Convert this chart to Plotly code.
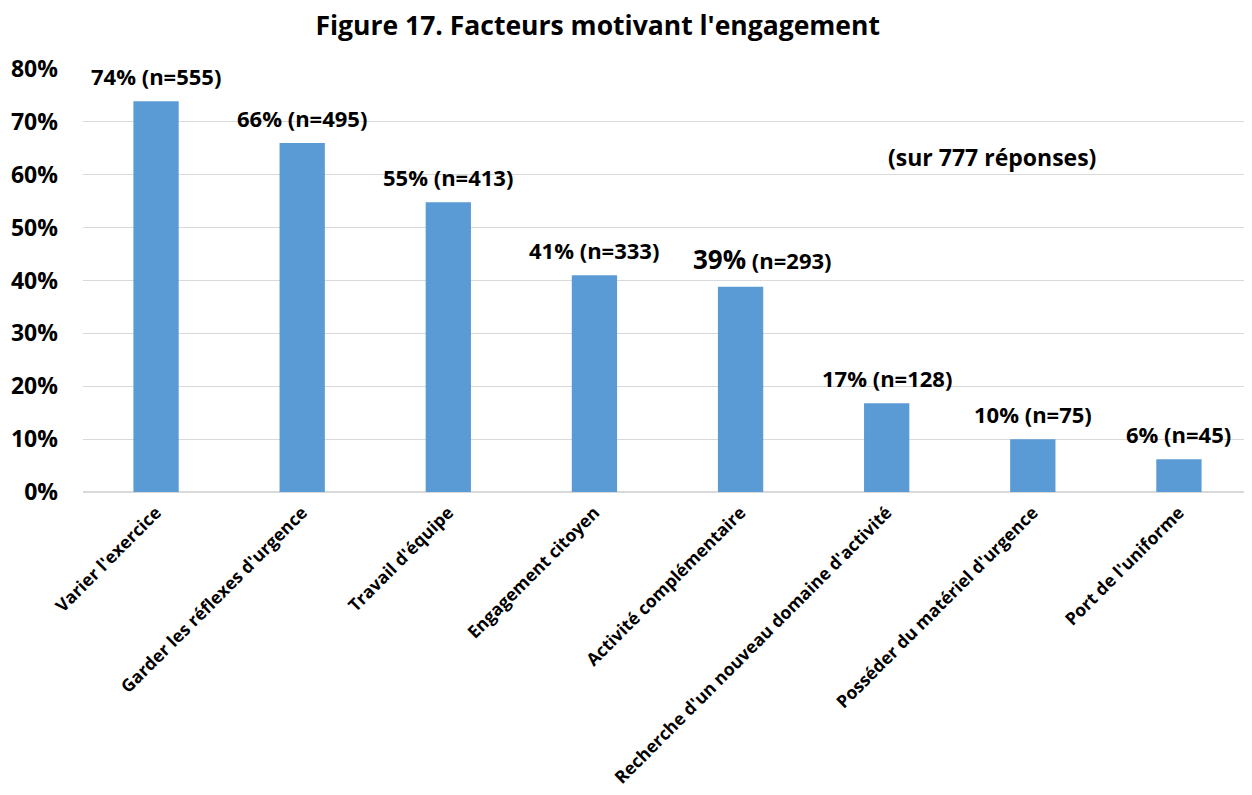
import plotly.graph_objects as go

categories = ["Varier l'exercice", "Garder les réflexes d'urgence", "Travail d'équipe",
              "Engagement citoyen", "Activité complémentaire",
              "Recherche d'un nouveau domaine d'activité",
              "Posséder du matériel d'urgence", "Port de l'uniforme"]
values = [73.9, 66.0, 54.8, 41.0, 38.8, 16.8, 10.0, 6.2]
pct_labels = ["74%", "66%", "55%", "41%", "39%", "17%", "10%", "6%"]
n_labels = [555, 495, 413, 333, 293, 128, 75, 45]
y_ticks = [0, 10, 20, 30, 40, 50, 60, 70, 80]

FONT = "Open Sans"
fig = go.Figure()
fig.add_trace(go.Bar(x=categories, y=values, marker=dict(color="#5b9bd5", line=dict(width=0)),
                     width=0.31, hoverinfo="skip"))

for i, (c, v, p, n) in enumerate(zip(categories, values, pct_labels, n_labels)):
    if i == 4:
        text = f"<span style='font-size:26px'>{p}</span> (n={n})"
        xs = 22
    else:
        text = f"{p} (n={n})"
        xs = 0
    fig.add_annotation(x=c, y=v, text=f"<b>{text}</b>",
                       showarrow=False, yanchor="bottom", yshift=8, xshift=xs,
                       font=dict(family=FONT, size=22, color="#000000"))

fig.add_annotation(x=0.778, xref="paper", xanchor="center", y=63.4, yref="y",
                   text="<b>(sur 777 réponses)</b>",
                   showarrow=False, font=dict(family=FONT, size=23, color="#000000"))

fig.update_layout(
    width=1252, height=795,
    margin=dict(l=75, r=8, t=61, b=311),
    paper_bgcolor="white", plot_bgcolor="white",
    title=dict(text="<b>Figure 17. Facteurs motivant l'engagement</b>", x=0.471, xref="container",
               y=0.978, yanchor="middle", font=dict(family=FONT, size=26.5, color="#000000")),
    showlegend=False,
    xaxis=dict(tickangle=-45, tickfont=dict(family=FONT, size=17.5, color="#000000"),
               showgrid=False, showline=False, ticks="", zeroline=False,
               ticklabelstandoff=6, automargin=False),
    yaxis=dict(range=[0, 80], tickvals=y_ticks, ticktext=[f"<b>{t}%</b>" for t in y_ticks],
               tickfont=dict(family=FONT, size=23, color="#000000"),
               showgrid=True, gridcolor="#d9d9d9", gridwidth=1.3, zeroline=True,
               zerolinecolor="#d9d9d9", zerolinewidth=1.5, showline=False,
               ticklabelstandoff=24, automargin=False),
)
fig.update_xaxes(ticktext=[f"<b>{c}</b>" for c in categories], tickvals=categories)
fig.write_html("out.html")
